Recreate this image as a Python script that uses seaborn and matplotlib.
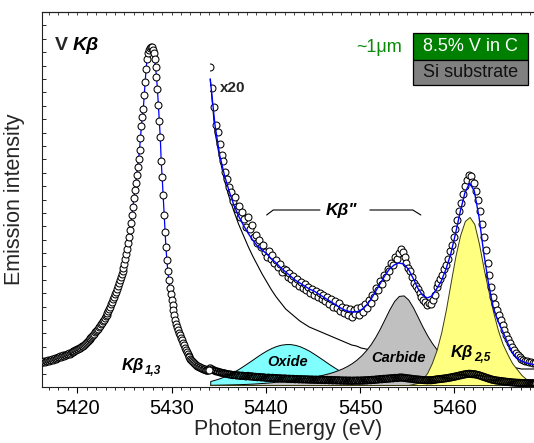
import numpy as np
import pandas as pd
import matplotlib
matplotlib.use("Agg")
import matplotlib.pyplot as plt
import seaborn as sns
from matplotlib.patches import Rectangle
from matplotlib.ticker import MultipleLocator

# ---------------- data ----------------
# main V Kb1,3 spectrum, uniform energy grid
main_start, main_step = 5416.3, 0.1
main_counts = [
    25, 25, 26, 25, 26, 26, 27, 26,
    27, 27, 28, 27, 28, 29, 28, 29, 29, 30,
    30, 31, 30, 31, 32, 31, 32, 32, 33, 33,
    34, 33, 34, 35, 35, 36, 36, 37, 37, 38,
    38, 39, 39, 40, 41, 41, 42, 43, 44, 45,
    46, 47, 48, 49, 50, 51, 52, 53, 55, 56,
    57, 58, 60, 61, 63, 64, 66, 67, 69, 71,
    72, 74, 76, 78, 80, 83, 85, 88, 90, 93,
    95, 98, 101, 104, 107, 110, 113, 116, 119, 123,
    128, 133, 138, 144, 150, 157, 164, 172, 180, 189,
    197, 204, 212, 220, 228, 237, 249, 261, 270, 278,
    292, 305, 318, 328, 334, 337, 339, 340, 340, 337,
    334, 328, 320, 310, 298, 282, 266, 250, 226, 210,
    192, 172, 155, 140, 127, 116, 107, 99, 93, 87,
    82, 77, 72, 67, 63, 60, 57, 54, 52, 49,
    47, 44, 42, 39, 37, 35, 33, 31, 30, 28,
    27, 26, 25, 24, 23, 22, 21, 21, 20, 20,
    19, 19, 18, 18, 18, 17, 17, 17, 17, 17,
]

# satellite region magnified x20, uniform energy grid
x20_start, x20_step = 5434.1, 0.2
x20_counts = [
    320, 299, 280, 262, 255, 243, 232, 226, 215, 208,
    200, 195, 186, 190, 178, 181, 170, 175, 168, 160,
    170, 158, 162, 150, 152, 144, 147, 140, 142, 135,
    130, 136, 128, 132, 124, 127, 120, 123, 115, 118,
    117, 110, 114, 108, 111, 104, 108, 101, 105, 99,
    103, 97, 100, 94, 98, 92, 96, 90, 94, 88,
    92, 86, 90, 83, 88, 80, 86, 79, 84, 76,
    80, 74, 79, 72, 78, 70, 77, 73, 79, 72,
    80, 75, 83, 79, 87, 84, 92, 90, 99, 97,
    106, 103, 112, 110, 118, 116, 124, 122, 130, 128,
    134, 138, 135, 130, 124, 119, 116, 110, 104, 101,
    98, 94, 90, 87, 85, 82, 84, 83, 87, 92,
    100, 104, 108, 112, 118, 122, 128, 136, 142, 150,
    158, 167, 176, 184, 193, 201, 207, 212, 211, 205,
    204, 196, 187, 176, 163, 150, 137, 124, 112, 100,
    90, 83, 77, 72, 67, 62, 57, 52, 48, 44,
    40, 37, 34, 32, 30, 28, 27, 26, 26, 25,
    25, 24, 24,
]
x20_scale = 20
x1_offset = 2.6

# fitted curves for the x20 region, uniform energy grid
fit_start, fit_step = 5434.1, 0.5
fit_total = [
    308, 262, 232, 212, 196, 182, 171, 162, 154, 147,
    141, 137, 133, 128, 124, 119, 115, 111, 107, 104,
    101, 98, 96, 93, 90, 87, 84, 81, 78, 76,
    75, 75, 77, 81, 87, 95, 103, 111, 118, 122,
    124, 123, 118, 109, 99, 92, 89, 91, 98, 106,
    118, 133, 153, 175, 194, 204, 196, 170, 134, 104,
    80, 66, 56, 45, 35, 29, 26, 24, 23, 22,
]
fit_tail = [
    308, 255, 229, 207, 190, 176, 163, 152, 141, 131,
    122, 113, 105, 97, 90, 84, 78, 74, 70, 66,
    63, 60, 58, 56, 54, 52, 50, 48, 46, 44,
    42, 41, 39, 38, 37, 36, 35, 34, 33, 32,
    31, 30, 30, 29, 28, 28, 27, 26, 26, 25,
    25, 24, 24, 23, 23, 22, 22, 21, 21, 21,
    20, 20, 20, 19, 19, 19, 18, 18, 18, 18,
]
fit_oxide = [
    6.0, 7.3, 8.8, 10.7, 12.8, 15.3, 18.1, 21.1, 24.3, 27.5,
    30.8, 33.9, 36.7, 39.1, 41.0, 42.3, 42.9, 42.9, 42.1, 40.7,
    38.6, 36.2, 33.2, 30.1, 26.9, 23.6, 20.5, 17.5, 14.8, 12.4,
    10.3, 8.5, 7.0, 5.8, 4.8, 4.0, 3.5, 3.0, 2.8, 2.6,
    2.4, 2.3, 2.2, 2.1, 2.1, 2.0, 2.0, 2.0, 2.0, 2.0,
    2.0, 2.0, 2.0, 2.0, 2.0, 2.0, 2.0, 2.0, 2.0, 2.0,
    2.0, 2.0, 2.0, 2.0, 2.0, 2.0, 2.0, 2.0, 2.0, 2.0,
]
fit_carbide = [
    2.2, 2.3, 2.4, 2.5, 2.6, 2.7, 2.8, 3.0, 3.2, 3.4,
    3.7, 4.0, 4.4, 4.8, 5.3, 5.8, 6.4, 7.0, 7.6, 8.3,
    9.0, 9.7, 10.5, 11.4, 12.4, 13.6, 15.0, 16.7, 18.6, 21.0,
    23.8, 27.3, 31.5, 36.6, 42.7, 50.1, 58.7, 68.2, 77.8, 86.0,
    91.1, 91.6, 87.4, 79.6, 70.1, 60.5, 51.7, 44.1, 37.7, 32.4,
    28.1, 24.5, 21.5, 19.1, 17.0, 15.3, 13.9, 12.6, 11.6, 10.7,
    9.9, 9.2, 8.6, 8.0, 7.6, 7.1, 6.8, 6.4, 6.1, 5.8,
]
fit_kb25 = [
    2, 2, 2, 2, 2, 2, 2, 2, 2, 2,
    2, 2, 2, 2, 2, 2, 2, 2, 2, 2,
    2, 2, 2, 2, 2, 2, 2, 2, 2, 2,
    2, 2, 2, 2, 2, 2, 2, 2, 2, 2,
    2, 2, 2, 3, 4, 8, 14, 24, 37, 55,
    78, 105, 131, 152, 166, 170, 163, 143, 118, 96,
    75, 57, 43, 33, 24, 18, 12, 8, 5, 4,
]
fit_base = 2

x_ticks = [5420, 5430, 5440, 5450, 5460]

# ---------------- frames ----------------
main_df = pd.DataFrame({
    "E": main_start + main_step * np.arange(len(main_counts)),
    "I": main_counts,
})
x20_df = pd.DataFrame({
    "E": x20_start + x20_step * np.arange(len(x20_counts)),
    "I": x20_counts,
})
x20_df["I1"] = x20_df["I"] / x20_scale + x1_offset
fit_df = pd.DataFrame({
    "E": fit_start + fit_step * np.arange(len(fit_total)),
    "total": fit_total, "tail": fit_tail, "oxide": fit_oxide,
    "carbide": fit_carbide, "kb25": fit_kb25,
})

# ---------------- style ----------------
sns.set_theme(style="white")
plt.rcParams["font.family"] = ["Liberation Sans", "DejaVu Sans"]
plt.rcParams["axes.linewidth"] = 0.8

fig = plt.figure(figsize=(5.34, 4.43), dpi=100)
ax = fig.add_axes([42 / 534, 56 / 443, 492 / 534, 375 / 443])
ax.set_xlim(5416.26, 5468.43)
ax.set_ylim(0, 375)

MS = 25
MLW = 0.75

# component fills
ax.fill_between(fit_df["E"], fit_base, fit_df["oxide"], facecolor="#80FFFF",
                edgecolor="black", linewidth=0.7, zorder=1.0)
ax.fill_between(fit_df["E"], fit_base, fit_df["carbide"], facecolor="#C0C0C0",
                edgecolor="black", linewidth=0.7, zorder=1.1)
ax.fill_between(fit_df["E"], fit_base, fit_df["kb25"], facecolor="#FFFF80",
                edgecolor="#3a3a10", linewidth=0.7, zorder=1.2)
sns.lineplot(data=fit_df, x="E", y="tail", ax=ax, color="black", linewidth=0.8,
             estimator=None, sort=False, zorder=0.9)

# x1 data in the satellite region (dense, overlapping rings)
sns.scatterplot(data=x20_df, x="E", y="I1", ax=ax, marker="o", s=MS,
                facecolor="none", edgecolor="black", linewidth=0.85, zorder=2)

# main peak: blue fit under circles
sns.lineplot(data=main_df, x="E", y="I", ax=ax, color="#0000FF", linewidth=0.9,
             estimator=None, sort=False, zorder=2.5)
sns.scatterplot(data=main_df, x="E", y="I", ax=ax, marker="o", s=MS,
                facecolor="white", edgecolor="black", linewidth=MLW, zorder=3)

# x20 data with blue fit on top
sns.scatterplot(data=x20_df, x="E", y="I", ax=ax, marker="o", s=MS,
                facecolor="white", edgecolor="black", linewidth=MLW, zorder=3.2)
clip = Rectangle((x20_start, 0), 40, 400, transform=ax.transData)
ax.collections[-1].set_clip_path(clip)
sns.lineplot(data=fit_df, x="E", y="total", ax=ax, color="#0000FF", linewidth=1.0,
             estimator=None, sort=False, zorder=4)

# ---------------- axes ----------------
ax.set_xticks(x_ticks)
ax.xaxis.set_minor_locator(MultipleLocator(1))
ax.tick_params(axis="x", which="major", direction="out", length=4.5, width=0.8,
               labelsize=14.5, pad=4.5, colors="black", bottom=True)
ax.tick_params(axis="x", which="minor", direction="out", length=2.2, width=0.7, bottom=True)
ax.set_yticks(np.linspace(0, 375, 29))
ax.set_yticklabels([])
ax.tick_params(axis="y", which="major", direction="in", length=3, width=0.7, left=True)
for s in ["left", "bottom", "top"]:
    ax.spines[s].set_color("#222222")
ax.spines["right"].set_visible(False)

sec = ax.secondary_xaxis("top")
sec.xaxis.set_major_locator(MultipleLocator(1))
sec.tick_params(direction="in", length=2, width=0.6, labeltop=False)
sec.spines["top"].set_color("#222222")

ax.set_xlabel("Photon Energy (eV)", fontsize=15.5, labelpad=0)
ax.set_ylabel("Emission intensity", fontsize=15.5, labelpad=9)
ax.grid(False)

# ---------------- annotations ----------------
bi = dict(fontweight="bold", fontstyle="italic", color="black")

t = ax.text(5417.64, 337, "V", fontsize=14, fontweight="bold", va="baseline", ha="left")
ax.annotate("K\u03b2", xy=(1, 0), xycoords=t, xytext=(3.5, 0), textcoords="offset points",
            va="bottom", ha="left", fontsize=14, **bi)

ax.text(5435.15, 294.7, "x20", fontsize=11, fontweight="bold", va="baseline", ha="left")

ax.text(5448.06, 177, "K\u03b2\"", fontsize=12.5, ha="center", va="center", **bi)
ax.plot([5440.08, 5440.78, 5445.73], [172, 177, 177], color="black", lw=0.8)
ax.plot([5451.02, 5455.58, 5456.43], [177, 177, 172], color="black", lw=0.8)

t13 = ax.text(5424.71, 17, "K\u03b2", fontsize=12, ha="left", va="baseline", **bi)
ax.annotate("1,3", xy=(1, 0), xycoords=t13, xytext=(0.3, -0.5), textcoords="offset points",
            va="baseline", ha="left", fontsize=8.5, **bi)

t25 = ax.text(5459.62, 29.7, "K\u03b2", fontsize=12, ha="left", va="baseline", **bi)
ax.annotate("2,5", xy=(1, 0), xycoords=t25, xytext=(0.3, -0.5), textcoords="offset points",
            va="baseline", ha="left", fontsize=8.5, **bi)

ax.text(5442.29, 25, "Oxide", fontsize=10.5, ha="center", va="center", **bi)
ax.text(5454.11, 29, "Carbide", fontsize=10.5, ha="center", va="center", **bi)

# layer sketch
ax.text(5454.42, 339, "~1\u03bcm", fontsize=13, color="#0a8a0a", ha="right", va="center")
ax.add_patch(Rectangle((5455.58, 327), 12.22, 26.7, facecolor="#008000",
                       edgecolor="black", linewidth=0.9, zorder=5))
ax.add_patch(Rectangle((5455.58, 302), 12.22, 25, facecolor="#808080",
                       edgecolor="black", linewidth=0.9, zorder=5))
ax.text(5461.69, 340.3, "8.5% V in C", fontsize=13, color="white",
        ha="center", va="center", zorder=6)
ax.text(5461.69, 314.5, "Si substrate", fontsize=13, color="#111111",
        ha="center", va="center", zorder=6)

fig.savefig("out.png", dpi=100)
